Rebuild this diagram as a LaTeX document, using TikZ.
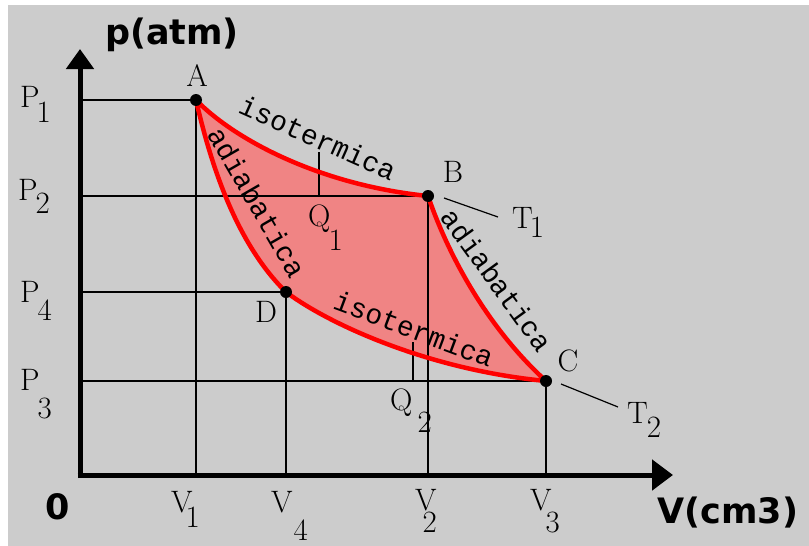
\documentclass[tikz,border=0pt]{standalone}
\usepackage{fontspec}
\usepackage{tikz}
\usetikzlibrary{arrows.meta}
\newfontfamily\monofont{Liberation Mono}
\newfontfamily\axisfont{DejaVu Sans}
\definecolor{cyclePink}{HTML}{F08484}
\definecolor{cycleRed}{HTML}{FF0000}
\definecolor{paneGray}{HTML}{CCCCCC}
% letter with a lowered index: [kern]{letter}{index}{drop}
\newcommand{\sublab}[4][0pt]{#2\kern#1\raisebox{-#4}{#3}}
\newcommand{\carnotloop}{(A) .. controls (235,140) and (320,185) .. (B)
  .. controls (450,260) and (490,330) .. (C)
  .. controls (430,370) and (330,325) .. (D)
  .. controls (238,245) and (212,170) .. (A) -- cycle}

\begin{document}
\begin{tikzpicture}[x=1pt,y=-1pt,
  guide/.style={line width=1.6pt},
  lbl/.style={font=\fontsize{31}{31}\selectfont,inner sep=0pt},
  curvelbl/.style={font=\monofont\fontsize{28}{28}\selectfont,inner sep=0pt},
  axislbl/.style={font=\axisfont\bfseries\fontsize{35}{35}\selectfont,inner sep=0pt},
  dot/.style={circle,fill=black,inner sep=0pt,minimum size=12pt}]
\useasboundingbox (0,0) rectangle (809,546);
\fill[paneGray] (8,5) rectangle (809,546);
% states of the cycle
\coordinate (A) at (196,100);
\coordinate (B) at (428,196);
\coordinate (C) at (546,381);
\coordinate (D) at (286,292);
% feet on the axes
\coordinate (O) at (80,475);
\coordinate (p1) at (80,100);
\coordinate (p2) at (80,196);
\coordinate (p4) at (80,292);
\coordinate (p3) at (80,381);
\coordinate (v1) at (196,475);
\coordinate (v4) at (286,475);
\coordinate (v2) at (428,475);
\coordinate (v3) at (546,475);
\fill[cyclePink] \carnotloop;
% guide lines
\draw[guide] (p1) -- (A) -- (v1);
\draw[guide] (p2) -- (B) -- (v2);
\draw[guide] (p4) -- (D) -- (v4);
\draw[guide] (p3) -- (C) -- (v3);
\coordinate (q1top) at (319,152);
\coordinate (q1foot) at (319,196);
\coordinate (q2top) at (413,342);
\coordinate (q2foot) at (413,380);
\draw[guide] (q1top) -- (q1foot);
\draw[guide] (q2top) -- (q2foot);
\coordinate (t1a) at (444,198);
\coordinate (t1b) at (498,217);
\coordinate (t2a) at (561,384);
\coordinate (t2b) at (618,407);
\draw[line width=1.2pt] (t1a) -- (t1b);
\draw[line width=1.2pt] (t2a) -- (t2b);
\draw[cycleRed,line width=4.5pt,line join=round] \carnotloop;
% axes
\draw[line width=5pt,-{Triangle[length=20pt,width=27pt]}] (80,478) -- (80,49) coordinate (ytip);
\draw[line width=5pt,-{Triangle[length=21pt,width=30pt]}] (77.5,475) -- (673,475) coordinate (xtip);
\node[dot] (dotA) at (A) {};
\node[dot] (dotB) at (B) {};
\node[dot] (dotC) at (C) {};
\node[dot] (dotD) at (D) {};
% labels
\node[lbl] (la) at (197,76) {A};
\node[lbl] (lb) at (453,172) {B};
\node[lbl] (lc) at (568,361) {C};
\node[lbl] (ld) at (266,312) {D};
\node[lbl,anchor=base west] (lp1) at (20,107) {\sublab[-3pt]{P}{1}{15pt}};
\node[lbl,anchor=base west] (lp2) at (18,200) {\sublab[-2pt]{P}{2}{13pt}};
\node[lbl,anchor=base west] (lp4) at (20,302) {\sublab[-2pt]{P}{4}{18pt}};
\node[lbl,anchor=base west] (lp3) at (20,390) {\sublab[-2pt]{P}{3}{28pt}};
\node[lbl,anchor=base west] (lv1) at (171,512) {\sublab[-7pt]{V}{1}{15pt}};
\node[lbl,anchor=base west] (lv4) at (271,512) {\sublab[1pt]{V}{4}{28pt}};
\node[lbl,anchor=base west] (lv2) at (415,510) {\sublab[-14pt]{V}{2}{22pt}};
\node[lbl,anchor=base west] (lv3) at (530,510) {\sublab[-6pt]{V}{3}{22pt}};
\node[lbl,anchor=base west] (lt1) at (512,228) {\sublab[-3pt]{T}{1}{9pt}};
\node[lbl,anchor=base west] (lt2) at (627,423) {\sublab[-1pt]{T}{2}{14pt}};
\node[lbl,anchor=base west] (lq1) at (308,226) {\sublab[-2pt]{Q}{1}{24pt}};
\node[lbl,anchor=base west] (lq2) at (390,410) {\sublab[5pt]{Q}{2}{22pt}};
\node[curvelbl,rotate=-24] (isoup) at (318,138) {isotermica};
\node[curvelbl,rotate=-60] (adleft) at (257,202) {adiabatica};
\node[curvelbl,rotate=-20.5] (isolow) at (414,329) {isotermica};
\node[curvelbl,rotate=-54] (adright) at (497,280) {adiabatica};
\node[axislbl] (pax) at (172,35) {p(atm)};
\node[axislbl] (vax) at (728,513) {V(cm3)};
\node[axislbl] (zero) at (58,507) {0};
\end{tikzpicture}
\end{document}
